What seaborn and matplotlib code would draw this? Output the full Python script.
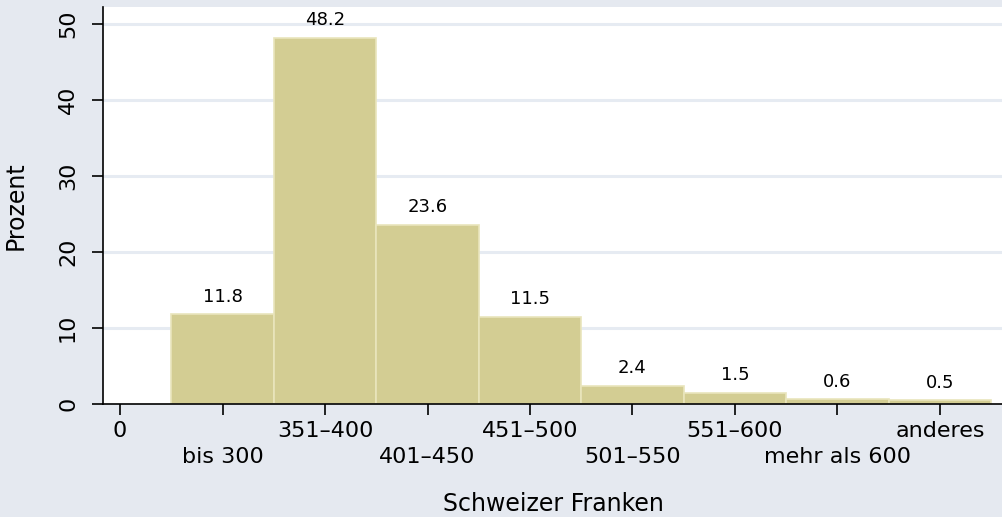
import numpy as np
import pandas as pd
import matplotlib
matplotlib.use("Agg")
import matplotlib.pyplot as plt
import seaborn as sns

# =========================================================
# DATA
# =========================================================
positions = [1, 2, 3, 4, 5, 6, 7, 8]
percent = [11.8, 48.2, 23.6, 11.5, 2.4, 1.5, 0.6, 0.5]
tick_positions = [0, 1, 2, 3, 4, 5, 6, 7, 8]
tick_labels = ["0", "bis 300", "351–400", "401–450", "451–500",
               "501–550", "551–600", "mehr als 600", "anderes"]
y_ticks = [0, 10, 20, 30, 40, 50]

BG = "#E5E9F0"
BAR = "#D3CD93"
BAR_EDGE = "#E9E5BC"
GRID = "#E6EBF2"

df = pd.DataFrame({"klasse": positions, "prozent": percent})

# =========================================================
# PLOT
# =========================================================
sns.set_style("white")
plt.rcParams["font.family"] = ["DejaVu Sans"]
plt.rcParams["text.color"] = "black"
plt.rcParams["axes.labelcolor"] = "black"
plt.rcParams["xtick.color"] = "black"
plt.rcParams["ytick.color"] = "black"

fig = plt.figure(figsize=(10.03, 5.17), dpi=100, facecolor=BG)
ax = fig.add_axes([0.1027, 0.2186, 0.8973, 0.7688])
ax.set_facecolor("white")

sns.barplot(data=df, x="klasse", y="prozent", native_scale=True, width=1,
            color=BAR, edgecolor=BAR_EDGE, linewidth=1.2, saturation=1,
            errorbar=None, ax=ax, zorder=3)

ax.bar_label(ax.containers[0], fmt="%.1f", padding=6, fontsize=13, color="black")

ax.set_xlim(-0.166, 8.615)
ax.set_ylim(0, 52.3)

# staggered x labels: even ones on major ticks (upper row), odd ones on minor ticks (lower row)
ax.set_xticks(tick_positions[0::2])
ax.set_xticklabels(tick_labels[0::2], fontsize=16)
ax.set_xticks(tick_positions[1::2], minor=True)
ax.set_xticklabels(tick_labels[1::2], minor=True, fontsize=16)
ax.set_yticks(y_ticks)
ax.set_yticklabels([str(v) for v in y_ticks], fontsize=16, rotation=90, va="center")

ax.tick_params(axis="x", which="major", length=8, width=1.2, pad=4, direction="out", bottom=True)
ax.tick_params(axis="x", which="minor", length=8, width=1.2, pad=23, direction="out", bottom=True)
ax.tick_params(axis="y", length=8, width=1.2, pad=10, direction="out", left=True)

for yv in y_ticks[1:]:
    ax.axhline(yv, color=GRID, linewidth=2.2, zorder=1)

for s in ["top", "right"]:
    ax.spines[s].set_visible(False)
for s in ["left", "bottom"]:
    ax.spines[s].set_color("black")
    ax.spines[s].set_linewidth(1.2)
    ax.spines[s].set_zorder(4)

ax.set_xlabel("Schweizer Franken", fontsize=17, labelpad=18)
ax.set_ylabel("Prozent", fontsize=17, labelpad=22)

fig.savefig("out.png", dpi=100, facecolor=BG)
